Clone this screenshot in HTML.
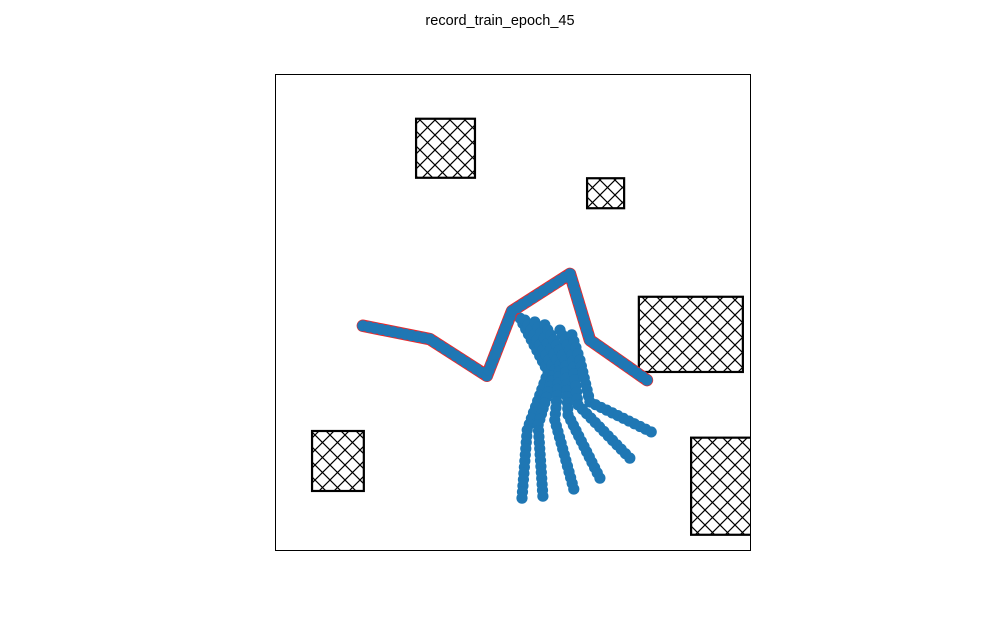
<!DOCTYPE html>
<html><head><meta charset="utf-8"><style>
body{margin:0;background:#fff;}
svg text{font-family:"Liberation Sans",sans-serif;}
</style></head><body>
<svg id="chart" width="1000" height="618" xmlns="http://www.w3.org/2000/svg">
<defs>
<pattern id="hatch" patternUnits="userSpaceOnUse" width="15" height="15">
<path d="M0,0L15,15M15,0L0,15M-2,13L2,17M13,-2L17,2M-2,2L2,-2M13,17L17,13" stroke="#000" stroke-width="1.2"/>
</pattern>
<clipPath id="clip"><rect x="275.5" y="74.5" width="475" height="476"/></clipPath>
</defs>
<rect width="1000" height="618" fill="#fff"/>
<text x="500" y="25" text-anchor="middle" font-size="14.5">record_train_epoch_45</text>
<g id="plot" clip-path="url(#clip)"></g>
<rect x="275.5" y="74.5" width="475" height="476" fill="none" stroke="#000" stroke-width="1"/>
</svg>
<script>
const mainPathX = [18.5, 32.6, 44.6, 49.9, 62.1, 66.3, 78.3];
const mainPathY = [47.1, 44.3, 36.6, 50.2, 58.0, 44.1, 35.7];
const branchX = [
  [51.6, 57.5, 53.1, 52.0],
  [52.6, 58.9, 55.4, 56.4],
  [54.7, 60.0, 58.9, 62.9],
  [56.8, 61.1, 61.7, 68.4],
  [60.0, 62.5, 63.8, 74.7],
  [62.5, 64.2, 66.3, 79.2]
];
const branchY = [
  [48.7, 37.4, 25.2, 10.9],
  [48.3, 37.8, 26.3, 11.3],
  [47.9, 38.9, 27.3, 12.8],
  [47.3, 39.9, 28.4, 15.1],
  [46.2, 41.0, 30.5, 19.3],
  [45.2, 39.9, 31.1, 24.8]
];
const obstacleX = [29.7, 65.7, 76.6, 7.8, 87.6];
const obstacleY = [78.2, 71.8, 37.4, 12.4, 3.2];
const obstacleW = [12.4, 7.8, 21.9, 10.9, 14.0];
const obstacleH = [12.4, 6.3, 15.8, 12.6, 20.4];

const X0=275, X1=750, Y0=550, Y1=74;
const sx = v => X0 + v/100*(X1-X0);
const sy = v => Y0 - v/100*(Y0-Y1);
const NS='http://www.w3.org/2000/svg';
const plot=document.getElementById('plot');

for(let i=0;i<obstacleX.length;i++){
  const r=document.createElementNS(NS,'rect');
  const x=sx(obstacleX[i]), y=sy(obstacleY[i]+obstacleH[i]);
  r.setAttribute('x',x); r.setAttribute('y',y);
  r.setAttribute('width',sx(obstacleX[i]+obstacleW[i])-x);
  r.setAttribute('height',sy(obstacleY[i])-y);
  r.setAttribute('fill','url(#hatch)'); r.setAttribute('stroke','#000'); r.setAttribute('stroke-width','2.2');
  
  
  plot.appendChild(r);
}

function drawPath(xs,ys,name,red){
  const g=document.createElementNS(NS,'g');
  
  
  if(red){
    const pl=document.createElementNS(NS,'polyline');
    pl.setAttribute('points',xs.map((v,i)=>sx(v)+','+sy(ys[i])).join(' '));
    pl.setAttribute('fill','none'); pl.setAttribute('stroke','#e8292b'); pl.setAttribute('stroke-width','12.5');
    pl.setAttribute('stroke-linejoin','round'); pl.setAttribute('stroke-linecap','round');
    
    
    g.appendChild(pl);
  }
  for(let i=0;i<xs.length-1;i++){
    const ax=sx(xs[i]),ay=sy(ys[i]),bx=sx(xs[i+1]),by=sy(ys[i+1]);
    const n=Math.max(1,Math.round(Math.hypot(bx-ax,by-ay)/6));
    for(let k=0;k<=n;k++){
      if(k===n && i<xs.length-2) continue;
      const c=document.createElementNS(NS,'circle');
      c.setAttribute('cx',ax+(bx-ax)*k/n); c.setAttribute('cy',ay+(by-ay)*k/n);
      c.setAttribute('r','5.6'); c.setAttribute('fill','#1f77b4');
      
      
      g.appendChild(c);
    }
  }
  plot.appendChild(g);
}
for(let b=0;b<branchX.length;b++) drawPath(branchX[b],branchY[b],'branch-trajectory',false);
drawPath(mainPathX,mainPathY,'main-trajectory',true);
</script>
</body></html>
